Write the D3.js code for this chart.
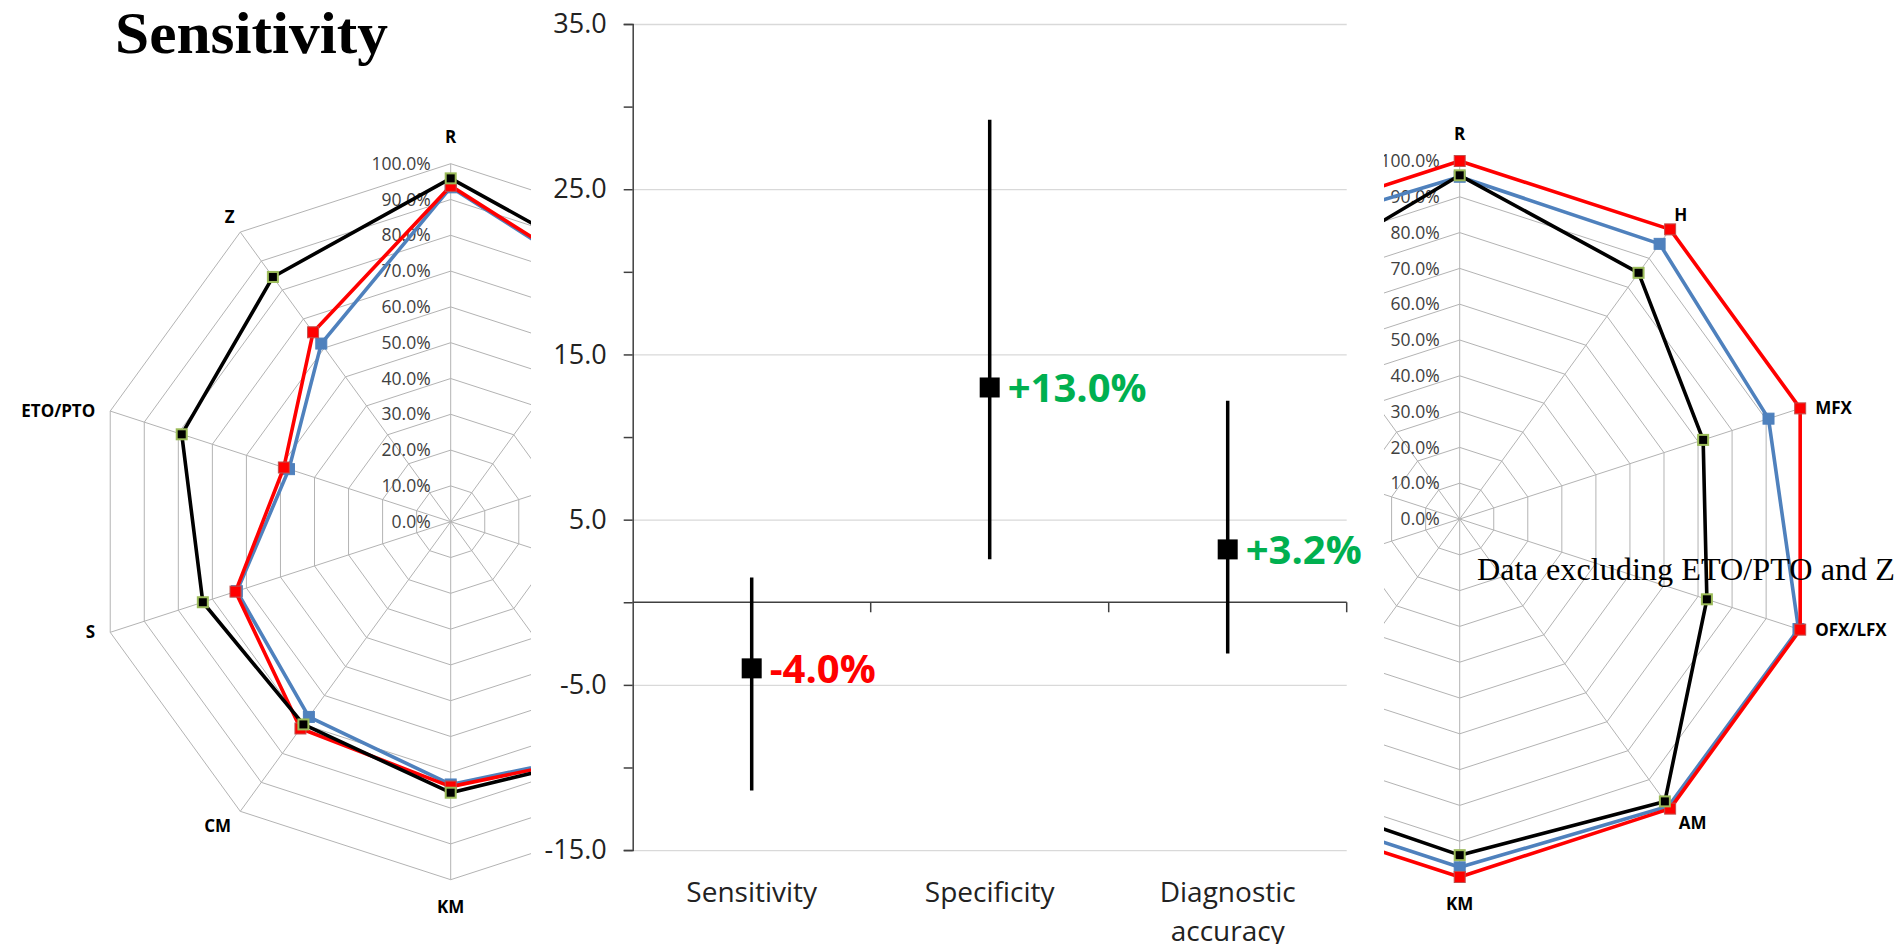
<!DOCTYPE html>
<html>
<head>
<meta charset="utf-8">
<script src="https://cdn.jsdelivr.net/npm/d3@7"></script>
<style>
  body { margin: 0; background: #fff; }
  svg { display: block; }
</style>
</head>
<body>
<div id="viz"></div>
<script>
// radar categories, clockwise from the top
const axes = ["R", "H", "MFX", "OFX/LFX", "AM", "KM", "CM", "S", "ETO/PTO", "Z"];
const ringLevels = [0, 0.1, 0.2, 0.3, 0.4, 0.5, 0.6, 0.7, 0.8, 0.9, 1.0];

// left radar (sensitivity)
const sensBlack = [0.959, 0.846, 0.80, 0.78, 0.796, 0.757, 0.700, 0.728, 0.790, 0.845];
const sensRed   = [0.938, 0.795, 0.84, 0.82, 0.795, 0.740, 0.714, 0.632, 0.490, 0.654];
const sensBlue  = [0.934, 0.790, 0.82, 0.80, 0.788, 0.734, 0.674, 0.628, 0.475, 0.615];

// right radar (data excluding ETO/PTO and Z)
const exclBlack = [0.960, 0.850, 0.715, 0.726, 0.975, 0.939, 0.929, 0.90, 0.88, 0.829];
const exclRed   = [1.0, 1.0, 1.0, 1.0, 1.0, 1.0, 1.0, 1.0, 1.0, 1.0];
const exclBlue  = [0.956, 0.950, 0.907, 0.995, 0.992, 0.973, 0.970, 0.97, 0.96, 0.969];

// middle chart: differences with intervals
const diffCats = ["Sensitivity", "Specificity", "Diagnostic accuracy"];
const diffValues = [-4.0, 13.0, 3.2];
const diffLow = [-11.4, 2.6, -3.1];
const diffHigh = [1.5, 29.2, 12.2];
const diffLabels = ["-4.0%", "+13.0%", "+3.2%"];
const yTicks = [-15, -5, 5, 15, 25, 35];
const yMinorTicks = [-15, -10, -5, 0, 5, 10, 15, 20, 25, 30, 35];

const width = 1901, height = 944;

const svg = d3.select("#viz").append("svg")
    .attr("width", width)
    .attr("height", height);

const radius = d3.scaleLinear().domain([0, 1]).range([0, 358]);
const angle = d3.scaleLinear().domain([0, axes.length]).range([0, 2 * Math.PI]);

const radarLine = d3.lineRadial()
    .angle((d, i) => angle(i))
    .radius(d => radius(d))
    .curve(d3.curveLinearClosed);

function labelPos(i) {
    const a = angle(i), s = Math.sin(a), c = Math.cos(a);
    const R = radius(1);
    if (Math.abs(s) > 0.9) {
        return {x: R * s + (s > 0 ? 15 : -15), y: -R * c, anchor: s > 0 ? "start" : "end"};
    }
    if (Math.abs(s) < 0.1) {
        return {x: 0, y: -(R + 27) * c, anchor: "middle"};
    }
    return {x: (R + 18) * s + (c < 0 ? 12 * Math.sign(s) : 0), y: -(R + 18) * c, anchor: "middle"};
}

function drawRadar(id, cx, cy, clipX0, clipX1, series) {
    svg.append("clipPath").attr("id", id)
        .append("rect")
        .attr("x", clipX0).attr("y", 0)
        .attr("width", clipX1 - clipX0).attr("height", height);

    const g = svg.append("g")
        .attr("clip-path", `url(#${id})`)
        .append("g")
        .attr("transform", `translate(${cx},${cy})`);

    g.selectAll(".ring")
        .data(ringLevels.slice(1))
        .join("path")
            .attr("class", "ring")
            .attr("d", lvl => radarLine(axes.map(() => lvl)))
            .attr("fill", "none")
            .attr("stroke", "#b3b3b3")
            .attr("stroke-width", 1);

    g.selectAll(".spoke")
        .data(axes)
        .join("line")
            .attr("class", "spoke")
            .attr("x1", 0).attr("y1", 0)
            .attr("x2", (d, i) => radius(1) * Math.sin(angle(i)))
            .attr("y2", (d, i) => -radius(1) * Math.cos(angle(i)))
            .attr("stroke", "#b3b3b3")
            .attr("stroke-width", 1);

    g.selectAll(".ring-label")
        .data(ringLevels)
        .join("text")
            .attr("class", "ring-label")
            .attr("x", -20)
            .attr("y", d => -radius(d))
            .attr("dy", "0.35em")
            .attr("text-anchor", "end")
            .style("font-family", "'Open Sans', sans-serif")
            .style("font-size", "17.5px")
            .attr("fill", "#404040")
            .text(d => d3.format(".1%")(d));

    // only the category labels that fall inside the visible part
    const shown = axes.map((d, i) => ({name: d, i: i, p: labelPos(i)}))
        .filter(d => cx + d.p.x >= clipX0 && cx + d.p.x <= clipX1);

    g.selectAll(".axis-label")
        .data(shown)
        .join("text")
            .attr("class", "axis-label")
            .attr("x", d => d.p.x)
            .attr("y", d => d.p.y)
            .attr("dy", "0.35em")
            .attr("text-anchor", d => d.p.anchor)
            .style("font-family", "'Open Sans', sans-serif")
            .style("font-size", "17px")
            .style("font-weight", "bold")
            .attr("fill", "#000")
            .text(d => d.name);

    series.forEach(s => {
        g.append("path")
            .attr("d", radarLine(s.values))
            .attr("fill", "none")
            .attr("stroke", s.color)
            .attr("stroke-width", 3.6)
            .attr("stroke-linejoin", "round");

        g.selectAll(null)
            .data(s.values)
            .join("rect")
                .attr("x", (d, i) => radius(d) * Math.sin(angle(i)) - s.size / 2)
                .attr("y", (d, i) => -radius(d) * Math.cos(angle(i)) - s.size / 2)
                .attr("width", s.size)
                .attr("height", s.size)
                .attr("fill", s.fill)
                .attr("stroke", s.stroke)
                .attr("stroke-width", s.strokeWidth);
    });
}

const styleBlue = {color: "#4f81bd", fill: "#4f81bd", stroke: "#4f81bd", strokeWidth: 1, size: 11};
const styleRed = {color: "#ff0000", fill: "#ff0000", stroke: "#c0504d", strokeWidth: 1, size: 11};
const styleBlack = {color: "#000", fill: "#000", stroke: "#9bbb59", strokeWidth: 2, size: 10};

drawRadar("clip-left", 450.7, 521.7, 0, 531, [
    Object.assign({values: sensBlue}, styleBlue),
    Object.assign({values: sensRed}, styleRed),
    Object.assign({values: sensBlack}, styleBlack)
]);

drawRadar("clip-right", 1459.7, 519, 1384, width, [
    Object.assign({values: exclBlue}, styleBlue),
    Object.assign({values: exclRed}, styleRed),
    Object.assign({values: exclBlack}, styleBlack)
]);

svg.append("text")
    .attr("x", 115)
    .attr("y", 53)
    .attr("textLength", 273)
    .attr("lengthAdjust", "spacingAndGlyphs")
    .style("font-family", "'Liberation Serif', 'DejaVu Serif', serif")
    .style("font-size", "60px")
    .style("font-weight", "bold")
    .attr("fill", "#000")
    .text("Sensitivity");

svg.append("text")
    .attr("x", 1477)
    .attr("y", 580)
    .attr("textLength", 418)
    .attr("lengthAdjust", "spacingAndGlyphs")
    .style("font-family", "'Liberation Serif', 'DejaVu Serif', serif")
    .style("font-size", "31px")
    .attr("fill", "#000")
    .text("Data excluding ETO/PTO and Z");

// ---- middle chart ----
const midLeft = 531, midRight = 1384;
svg.append("rect")
    .attr("x", midLeft).attr("y", 0)
    .attr("width", midRight - midLeft).attr("height", height)
    .attr("fill", "#fff");

const x = d3.scaleBand()
    .domain(diffCats)
    .range([632.7, 1346.7]);

const y = d3.scaleLinear()
    .domain([-15, 35])
    .range([850.1, 24]);

const mid = svg.append("g").attr("class", "mid");

const grid = mid.append("g")
    .attr("transform", `translate(${x.range()[0]},0)`)
    .call(d3.axisLeft(y).tickValues(yTicks).tickSize(-(x.range()[1] - x.range()[0])).tickFormat(""));
grid.select(".domain").remove();
grid.selectAll(".tick line").attr("stroke", "#d9d9d9").attr("stroke-width", 1.3);

const yAxis = mid.append("g")
    .attr("transform", `translate(${x.range()[0]},0)`)
    .call(d3.axisLeft(y)
        .tickValues(yMinorTicks)
        .tickSize(9)
        .tickPadding(17)
        .tickFormat(d => yTicks.includes(d) ? d.toFixed(1) : ""));
yAxis.select(".domain").attr("stroke", "#404040").attr("stroke-width", 1.5);
yAxis.selectAll(".tick line").attr("stroke", "#404040").attr("stroke-width", 1.5);
yAxis.selectAll(".tick text")
    .style("font-family", "'Open Sans', sans-serif")
    .style("font-size", "27px")
    .attr("fill", "#222");

mid.append("line")
    .attr("x1", x.range()[0]).attr("x2", x.range()[1])
    .attr("y1", y(0)).attr("y2", y(0))
    .attr("stroke", "#404040")
    .attr("stroke-width", 1.5);

mid.selectAll(".cat-tick")
    .data(diffCats)
    .join("line")
        .attr("class", "cat-tick")
        .attr("x1", d => x(d) + x.bandwidth())
        .attr("x2", d => x(d) + x.bandwidth())
        .attr("y1", y(0))
        .attr("y2", y(0) + 10)
        .attr("stroke", "#404040")
        .attr("stroke-width", 1.5);

const xAxis = mid.append("g")
    .attr("transform", `translate(0,${y(-15)})`)
    .call(d3.axisBottom(x).tickSize(0).tickPadding(32));
xAxis.select(".domain").remove();
xAxis.selectAll(".tick text")
    .style("font-family", "'Open Sans', sans-serif")
    .style("font-size", "28px")
    .attr("fill", "#222")
    .each(function(d) {
        const words = d.split(" ");
        if (words.length < 2) return;
        const t = d3.select(this).text(null);
        words.forEach((w, i) => {
            t.append("tspan")
                .attr("x", 0)
                .attr("dy", i === 0 ? "0.71em" : "1.4em")
                .text(w);
        });
        t.attr("dy", null);
    });

const gDiff = mid.selectAll(".diff")
    .data(diffCats)
    .join("g")
        .attr("class", "diff")
        .attr("transform", d => `translate(${x(d) + x.bandwidth() / 2},0)`);

gDiff.append("line")
    .attr("y1", (d, i) => y(diffLow[i]))
    .attr("y2", (d, i) => y(diffHigh[i]))
    .attr("stroke", "#000")
    .attr("stroke-width", 3.5);

gDiff.append("rect")
    .attr("x", -10)
    .attr("y", (d, i) => y(diffValues[i]) - 10)
    .attr("width", 20)
    .attr("height", 20)
    .attr("fill", "#000");

gDiff.append("text")
    .attr("x", 18)
    .attr("y", (d, i) => y(diffValues[i]))
    .attr("dy", "0.36em")
    .style("font-family", "'Open Sans', sans-serif")
    .style("font-size", "40px")
    .style("font-weight", "bold")
    .attr("fill", (d, i) => diffValues[i] < 0 ? "#ff0000" : "#00b050")
    .text((d, i) => diffLabels[i]);
</script>
</body>
</html>
